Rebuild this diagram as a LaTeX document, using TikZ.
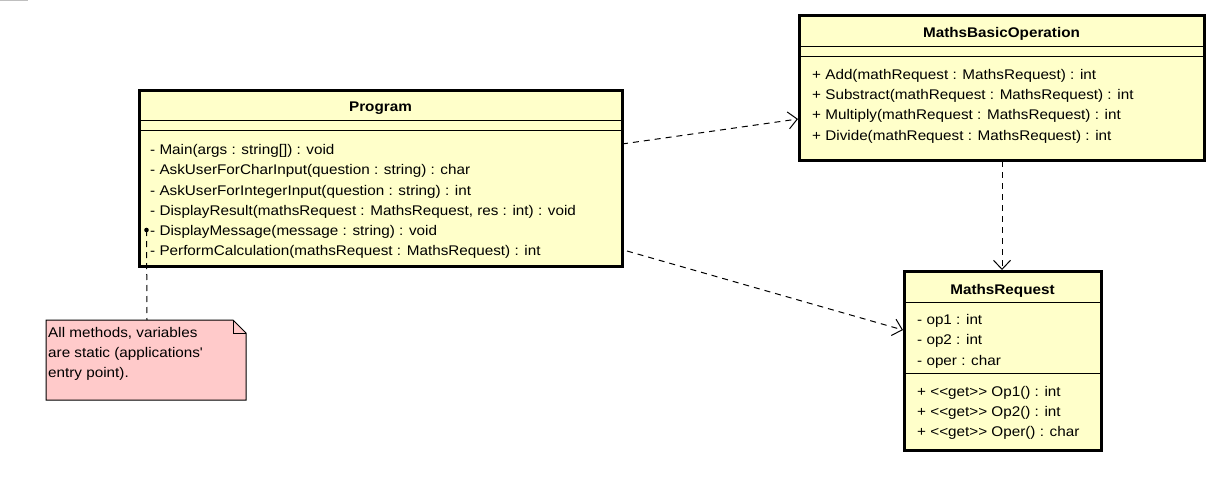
\documentclass[tikz,border=0pt]{standalone}
\usepackage{fontspec}
\newfontfamily\umlfont[FakeStretch=1.09]{Liberation Sans}
\usetikzlibrary{arrows.meta}
\definecolor{classfill}{RGB}{255,255,202}
\definecolor{notefill}{RGB}{255,202,202}
\begin{document}
\begin{tikzpicture}[x=1pt,y=-1pt,
  every node/.style={font=\umlfont\fontsize{14}{16}\selectfont, inner sep=0pt},
  classbox/.style={draw=black, line width=3pt, fill=classfill, anchor=north west,
    inner sep=0pt, outer sep=0pt},
  sep/.style={line width=1pt},
  member/.style={anchor=base west, yshift=-5pt},
  classtitle/.style={anchor=base, yshift=-5pt, font=\umlfont\bfseries\fontsize{14}{16}\selectfont},
  dep/.style={line width=1pt, dash pattern=on 6pt off 5pt,
    -{Straight Barb[length=9pt,width=17pt,line width=1pt]}},
  notelink/.style={line width=1pt, dash pattern=on 6pt off 5pt}]
\useasboundingbox (0,0) rectangle (1215,484);
\draw[gray!50, line width=1pt] (0,0.5) -- (28,0.5);

% class Program
\node[classbox, minimum width=483pt, minimum height=175pt] (prog) at (139,91) {};
\draw[sep] (139,121) -- (622,121);
\draw[sep] (139,131) -- (622,131);
\node[classtitle] at (380.5,107) {Program};
\node[member] at (150,149) {- Main(args : string[]) : void};
\node[member] at (150,169) {- AskUserForCharInput(question : string) : char};
\node[member] at (150,190) {- AskUserForIntegerInput(question : string) : int};
\node[member] at (150,210) {- DisplayResult(mathsRequest : MathsRequest, res : int) : void};
\node[member] at (150,230) {- DisplayMessage(message : string) : void};
\node[member] at (150,250) {- PerformCalculation(mathsRequest : MathsRequest) : int};

% class MathsBasicOperation
\node[classbox, minimum width=405pt, minimum height=144pt] (mbo) at (799,16) {};
\draw[sep] (799,47) -- (1204,47);
\draw[sep] (799,57) -- (1204,57);
\node[classtitle] at (1001.5,33) {MathsBasicOperation};
\node[member] at (812,75) {+ Add(mathRequest : MathsRequest) : int};
\node[member] at (812,95) {+ Substract(mathRequest : MathsRequest) : int};
\node[member] at (812,115) {+ Multiply(mathRequest : MathsRequest) : int};
\node[member] at (812,135) {+ Divide(mathRequest : MathsRequest) : int};

% class MathsRequest
\node[classbox, minimum width=197pt, minimum height=179pt] (req) at (904,271) {};
\draw[sep] (904,302) -- (1101,302);
\draw[sep] (904,373) -- (1101,373);
\node[classtitle] at (1002.5,289) {MathsRequest};
\node[member] at (917,319) {- op1 : int};
\node[member] at (917,339) {- op2 : int};
\node[member] at (917,360) {- oper : char};
\node[member] at (917,391) {+ <<get>> Op1() : int};
\node[member] at (917,411) {+ <<get>> Op2() : int};
\node[member] at (917,431) {+ <<get>> Oper() : char};

% note with folded corner
\draw[line width=1pt, fill=notefill] (46,320) -- (233,320) -- (246,333) -- (246,400) -- (46,400) -- cycle;
\draw[line width=1pt] (233,320) -- (233,333) -- (246,333);
\coordinate (notetop) at (147,320);
\node[member] at (48,332) {All methods, variables};
\node[member] at (48,352) {are static (applications'};
\node[member] at (48,372) {entry point).};

% note attachment
\coordinate (attach) at (146.5,230);
\fill (attach) circle (2.3pt);
\draw[notelink] (attach) -- (notetop);

% dependencies
\coordinate (p1) at (622,144);
\coordinate (m1) at (798,119);
\coordinate (p2) at (627,251);
\coordinate (r1) at (903,330);
\coordinate (m2) at (1002,161);
\coordinate (r2) at (1002,270);
\draw[dep] (p1) -- (m1);
\draw[dep] (p2) -- (r1);
\draw[dep] (m2) -- (r2);
\end{tikzpicture}
\end{document}
